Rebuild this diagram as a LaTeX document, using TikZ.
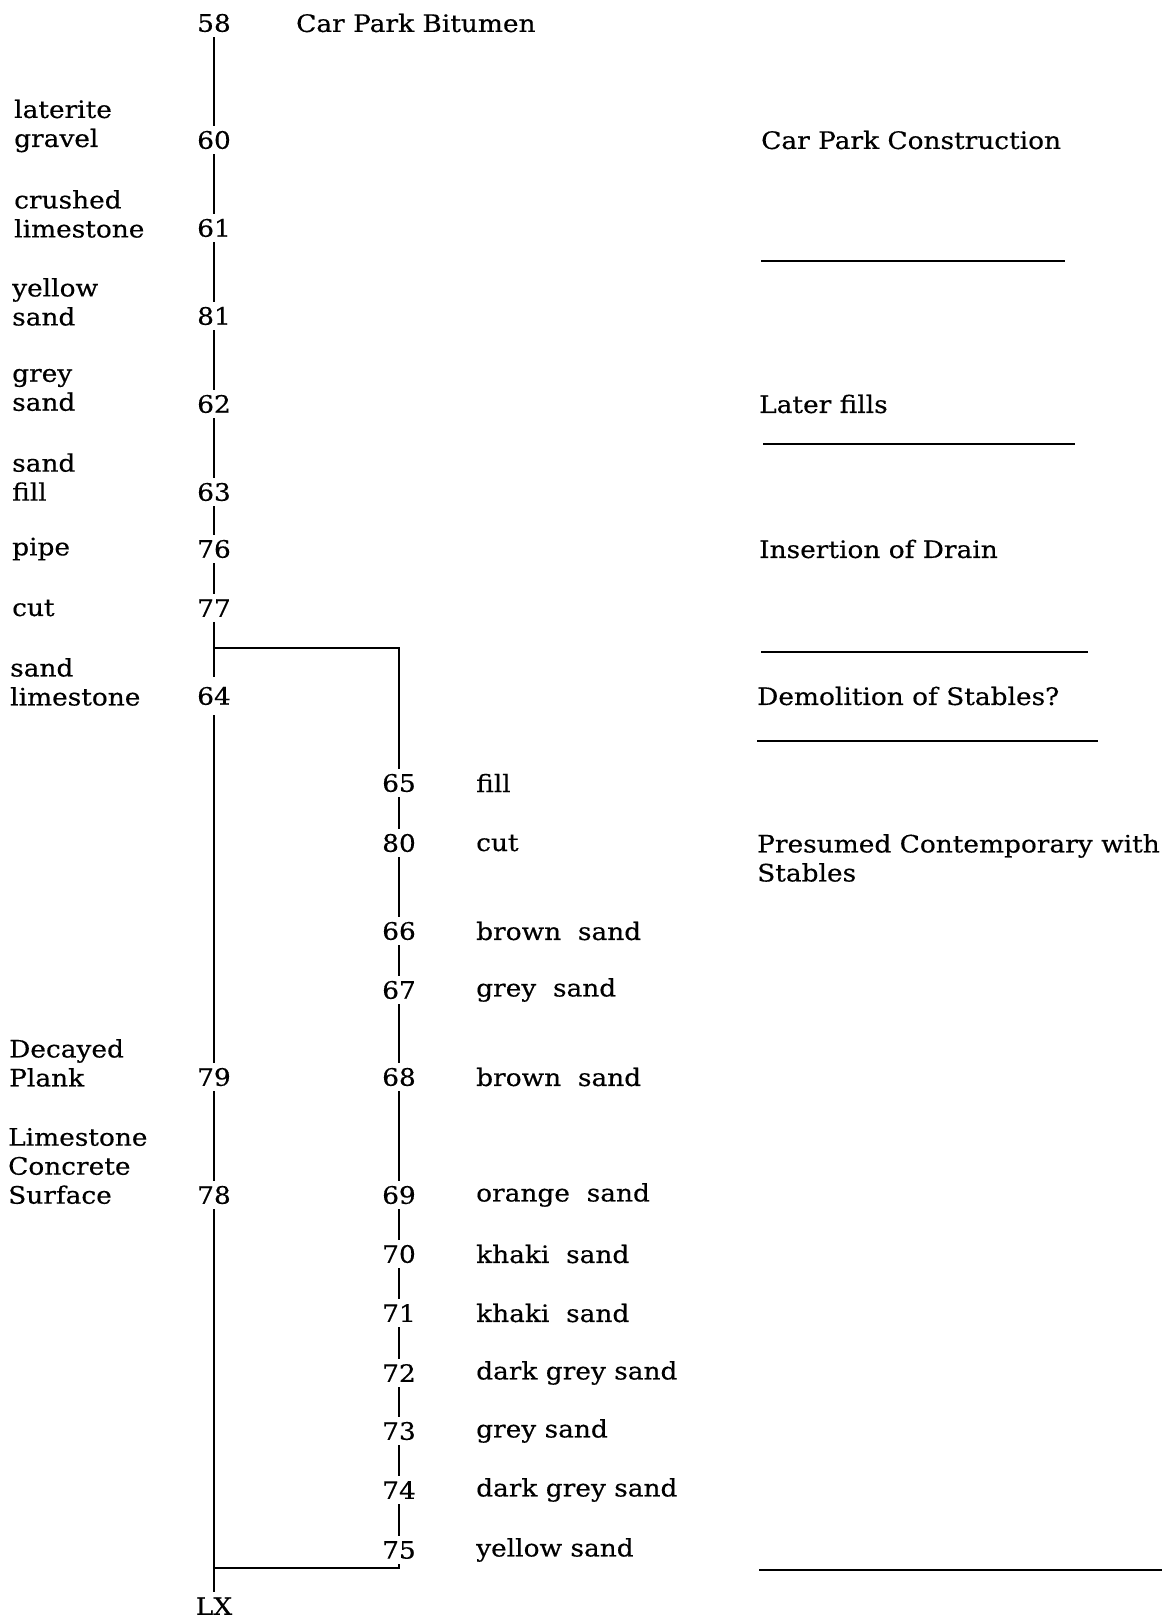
\documentclass[tikz,border=0pt]{standalone}
\usepackage{fontspec}
\setmainfont{DejaVu Serif}[FakeStretch=1.1, FakeBold=0.4]
\usetikzlibrary{positioning}

\tikzstyle{ctx}=[inner sep=5pt]
\tikzstyle{desc}=[anchor=west, align=left, inner sep=0pt]
\tikzstyle{phase}=[anchor=west, align=left, inner sep=0pt]
\tikzstyle{link}=[line width=1.6pt]

\begin{document}
\begin{tikzpicture}[x=1pt, y=-1pt, font=\fontsize{24}{29}\selectfont]
      \useasboundingbox (0,0) rectangle (1162,1619);

      % first column of contexts
      \node (c58) at (214,  23) [ctx] {58};
      \node (c60) at (214, 140) [ctx] {60};
      \node (c61) at (214, 228) [ctx] {61};
      \node (c81) at (214, 316) [ctx] {81};
      \node (c62) at (214, 404) [ctx] {62};
      \node (c63) at (214, 492) [ctx] {63};
      \node (c76) at (214, 549) [ctx] {76};
      \node (c77) at (214, 608) [ctx] {77};
      \node (c64) at (214, 696) [ctx, inner ysep=10pt] {64};
      \node (c79) at (214,1077) [ctx] {79};
      \node (c78) at (214,1195) [ctx] {78};
      \node (lx)  at (214,1606) [ctx] {LX};

      % second column of contexts
      \foreach \num/\ypos/\what in {65/783/fill, 80/843/cut, 66/931/brown\ \ sand,
            67/990/grey\ \ sand, 68/1077/brown\ \ sand, 69/1195/orange\ \ sand,
            70/1254/khaki\ \ sand, 71/1313/khaki\ \ sand, 72/1373/dark grey sand,
            73/1431/grey sand, 74/1490/dark grey sand, 75/1550/yellow sand}
      {
            \node (c\num) at (399,\ypos) [ctx] {\num};
            \node (d\num) at (476,\ypos) [desc] {\what};
      }

      % descriptions of the first column
      \node (d58) at (296,  23) [desc] {Car Park Bitumen};
      \node (d60) at (14, 126) [desc] {laterite\\gravel};
      \node (d61) at (14, 214) [desc] {crushed\\limestone};
      \node (d81) at (12, 302) [desc] {yellow\\sand};
      \node (d62) at (12, 390) [desc] {grey\\sand};
      \node (d63) at (12, 477) [desc] {sand\\fill};
      \node (d76) at (12, 549) [desc] {pipe};
      \node (d77) at (12, 608) [desc] {cut};
      \node (d64) at (10, 682) [desc] {sand\\limestone};
      \node (d79) at (9, 1063) [desc] {Decayed\\Plank};
      \node (d78) at (8, 1166) [desc] {Limestone\\Concrete\\Surface};

      % phases
      \node (p:carpark) at (761, 140) [phase] {Car Park Construction};
      \node (p:fills)   at (759, 404) [phase] {Later fills};
      \node (p:drain)   at (759, 549) [phase] {Insertion of Drain};
      \node (p:demol)   at (757, 696) [phase] {Demolition of Stables?};
      \node (p:stables) at (757, 858) [phase] {Presumed Contemporary with\\Stables};
      \draw [link] (761, 261) -- (1065, 261);
      \draw [link] (763, 444) -- (1075, 444);
      \draw [link] (761, 652) -- (1088, 652);
      \draw [link] (757, 741) -- (1098, 741);
      \draw [link] (759,1570) -- (1162,1570);

      % connectors
      \coordinate (split) at (214, 648);
      \coordinate (join)  at (214,1568);
      \draw [link] (c58) -- (c60) -- (c61) -- (c81) -- (c62) -- (c63) -- (c76) -- (c77) -- (c64);
      \draw [link] (c64) -- (c79) -- (c78) -- (lx);
      \draw [link] (split) -| (c65);
      \draw [link] (c65) -- (c80) -- (c66) -- (c67) -- (c68) -- (c69) -- (c70) -- (c71)
            -- (c72) -- (c73) -- (c74) -- (c75);
      \draw [link] (c75) |- (join);
\end{tikzpicture}
\end{document}
